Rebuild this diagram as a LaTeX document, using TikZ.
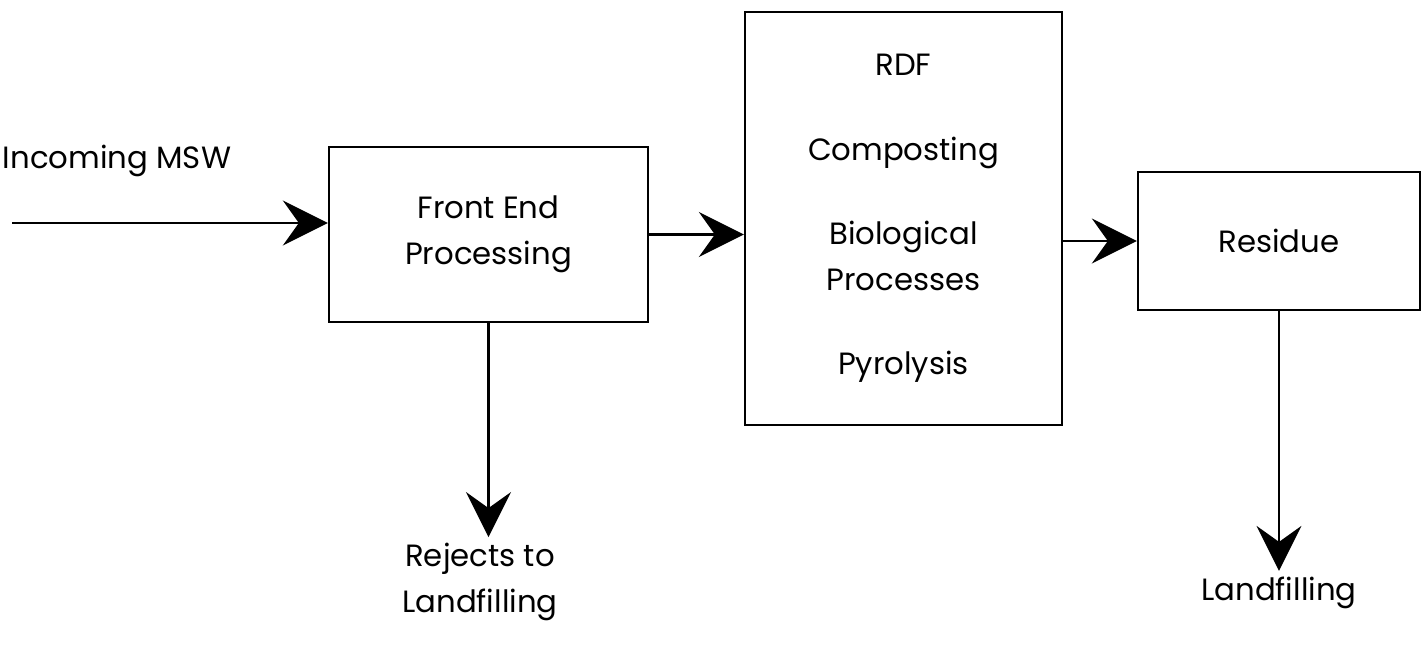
\documentclass[tikz,border=0pt]{standalone}
\usepackage{fontspec}
\setmainfont{Poppins}
\usetikzlibrary{arrows.meta}

\begin{document}
\begin{tikzpicture}[
    every node/.style={font=\fontsize{17.5}{26}\selectfont, align=center},
    box/.style={draw, line width=1.3pt, inner sep=0pt},
    flow/.style={line width=1.3pt, -{Stealth[length=0.9cm, width=0.9cm, inset=0.32cm]}}
  ]
  \useasboundingbox (0,0) rectangle (28.54,12.94);
  % incoming waste
  \node (msw) at (2.34,9.72) {Incoming MSW};
  \coordinate (in) at (0.24,8.48);
  % process boxes
  \node[box, minimum width=6.38cm, minimum height=3.5cm] (fep) at (9.77,8.25) {Front End\\Processing};
  \node[box, minimum width=6.34cm, minimum height=8.26cm] (proc) at (18.07,8.57)
    {RDF\\[22pt]Composting\\[22pt]Biological\\Processes\\[22pt]Pyrolysis};
  \node[box, minimum width=5.64cm, minimum height=2.76cm] (res) at (25.58,8.12) {Residue};
  % outputs
  \node (rej) at (9.6,1.3) {Rejects to\\Landfilling};
  \node (land) at (25.58,1.08) {Landfilling};
  % flows
  \draw[flow] (in) -- (in -| fep.west);
  \draw[flow] (fep.east) -- (fep.east -| proc.west);
  \draw[flow] (res.west -| proc.east) -- (res.west);
  \draw[flow] (fep.south) -- (fep.south |- rej.north);
  \draw[flow] (res.south) -- (res.south |- land.north);
\end{tikzpicture}
\end{document}
